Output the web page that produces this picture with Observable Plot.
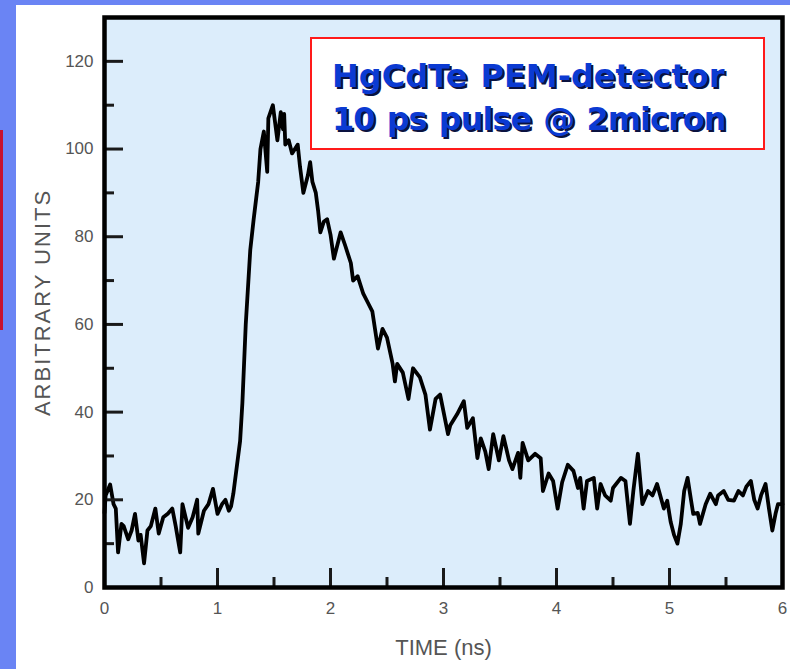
<!DOCTYPE html>
<html><head><meta charset="utf-8">
<script src="https://cdn.jsdelivr.net/npm/d3@7"></script>
<script src="https://cdn.jsdelivr.net/npm/@observablehq/plot@0.6"></script>
<style>
html,body{margin:0;padding:0;}
body{width:790px;height:669px;overflow:hidden;background:#6a84f4;position:relative;font-family:"Liberation Sans",Arial,sans-serif;}
#panel{position:absolute;left:16px;top:5px;width:774px;height:664px;background:#fff;}
#redbar{position:absolute;left:0;top:130px;width:3px;height:200px;background:#c8102e;}
#legend{position:absolute;left:310px;top:37px;width:451px;height:109px;border:2px solid #ff1a1a;background:#fff;box-sizing:content-box;}
#legend div{position:absolute;left:20px;font-family:"DejaVu Sans",Verdana,sans-serif;font-weight:bold;font-size:32px;line-height:40px;color:#0b3ad2;text-shadow:2px 2px 0 #0a1240;white-space:nowrap;word-spacing:2px;}
</style></head><body>
<div id="redbar"></div>
<div id="panel"><div id="chart"></div></div>
<div id="legend"></div>
<script>
// time in ns
const time = [
 0.00,0.01,0.05,0.08,0.10,0.12,0.15,0.17,0.21,0.24,0.27,0.30,0.32,0.35,0.38,0.41,0.45,0.48,0.52,0.56,
 0.60,0.63,0.67,0.69,0.74,0.78,0.82,0.83,0.88,0.92,0.96,1.00,1.04,1.07,1.10,1.12,1.14,1.20,1.22,1.25,
 1.29,1.32,1.36,1.38,1.41,1.44,1.45,1.49,1.51,1.53,1.56,1.58,1.59,1.60,1.63,1.66,1.71,1.73,1.76,1.80,
 1.82,1.84,1.87,1.89,1.91,1.94,1.97,2.00,2.03,2.09,2.13,2.18,2.20,2.24,2.29,2.33,2.37,2.42,2.46,2.50,
 2.55,2.57,2.59,2.64,2.69,2.73,2.79,2.84,2.88,2.93,2.97,3.04,3.06,3.12,3.18,3.21,3.26,3.30,3.33,3.37,
 3.40,3.44,3.49,3.53,3.58,3.61,3.66,3.68,3.70,3.75,3.81,3.86,3.88,3.93,3.97,4.01,4.05,4.10,4.15,4.19,
 4.21,4.24,4.27,4.33,4.36,4.39,4.43,4.48,4.50,4.57,4.61,4.65,4.68,4.72,4.76,4.81,4.85,4.89,4.95,4.98,
 5.01,5.04,5.07,5.10,5.13,5.16,5.19,5.21,5.25,5.27,5.32,5.36,5.41,5.43,5.48,5.52,5.57,5.61,5.65,5.68,
 5.72,5.75,5.78,5.81,5.85,5.88,5.91,5.94,5.96,6.00
];
// signal in arbitrary units
const signal = [
 17,21,23.5,19,18,8,14.5,14,11,13,16.8,10.7,12,5.5,13,14,18,12.3,16,16.8,
 18,14,8,19,13.6,16,20,12.3,17.5,19,22.5,16.8,19,20,17.5,18.5,21.4,33.4,42,60,
 77,84,92.5,100,104,94.8,107,110,106,102,108.4,104.5,108,101,102,99,101,96,90,94,
 97,92.5,90,86,81,83.4,84,80.5,75,81,78,74,70,71,67,65,63,54.5,59,57,
 51,47,51,49,43,50,48,44,36,43,44,35,37,39.5,42.5,36.4,38.6,29.5,34,31,
 27,35,29,34.5,29,27,30.7,25,33,29,30.5,29.5,22,26,24.3,18,24,28,26.6,22.7,
 25,18,24.3,25,18,23.6,21,19.8,22.7,25,24.3,14.5,22,30.5,19,22,21,23.6,18,19.8,
 15,12,10,14.5,22,25,20,16.8,17,14.5,19,21.4,19,21,22,20,19.8,22,21,23,
 24.3,20,18,21,23.6,18,13,17,19,19
];
const xMajor = [0,1,2,3,4,5,6];
const xMinor = [0.5,1.5,2.5,3.5,4.5,5.5];
const yMajor = [0,20,40,60,80,100,120];
const yMinor = [10,30,50,70,90,110];
const xTitle = "TIME (ns)";
const yTitle = "ARBITRARY UNITS";
const legendLines = ["HgCdTe PEM-detector", "10 ps pulse @ 2micron"];

const data = time.map((t, i) => ({t, v: signal[i]}));

const W = 774, H = 664, mL = 88, mR = 8, mT = 12, mB = 82;
const fw = W - mL - mR, fh = H - mT - mB;
const majorLen = 19, minorLen = 10;
const tickColor = "#1a1a1a";
const labelColor = "#555";

const chart = Plot.plot({
  width: W,
  height: H,
  marginLeft: mL,
  marginRight: mR,
  marginTop: mT,
  marginBottom: mB,
  style: {fontFamily: "'Liberation Sans', Arial, sans-serif", background: "transparent", overflow: "visible"},
  x: {domain: [0, 6]},
  y: {domain: [0, 130]},
  marks: [
    Plot.frame({fill: "#dcedfb", stroke: null}),
    Plot.line(data, {x: "t", y: "v", stroke: "black", strokeWidth: 3.8, strokeLinejoin: "round", strokeLinecap: "round"}),
    Plot.tickX(xMajor, {x: d => d, insetTop: fh - majorLen, stroke: tickColor, strokeWidth: 3}),
    Plot.tickX(xMinor, {x: d => d, insetTop: fh - minorLen, stroke: tickColor, strokeWidth: 3}),
    Plot.tickY(yMajor, {y: d => d, insetRight: fw - majorLen, stroke: tickColor, strokeWidth: 3}),
    Plot.tickY(yMinor, {y: d => d, insetRight: fw - minorLen, stroke: tickColor, strokeWidth: 3}),
    Plot.axisY(yMajor, {tickSize: 0, tickPadding: 11, fill: labelColor, fontSize: 17, label: null}),
    Plot.axisX(xMajor, {tickSize: 0, tickPadding: 14, fill: labelColor, fontSize: 17, label: null}),
    Plot.text([yTitle], {frameAnchor: "left", dx: -62, rotate: -90, textAnchor: "middle", lineAnchor: "middle", fontSize: 22, fill: labelColor, text: d => d}),
    Plot.text([xTitle], {frameAnchor: "bottom", dy: 60, textAnchor: "middle", lineAnchor: "middle", fontSize: 22, fill: labelColor, text: d => d}),
    Plot.frame({stroke: "black", strokeWidth: 4.5})
  ]
});
document.getElementById("chart").appendChild(chart);
d3.select(chart).selectAll("text").filter(function(){ return this.textContent === yTitle; }).attr("letter-spacing", "2px");

// legend
const tops = [17, 60];
const spacing = ["0px", "-1px"];
legendLines.forEach((s, i) => {
  d3.select("#legend").append("div").style("top", tops[i] + "px").style("letter-spacing", spacing[i]).text(s);
});
</script>
</body></html>
